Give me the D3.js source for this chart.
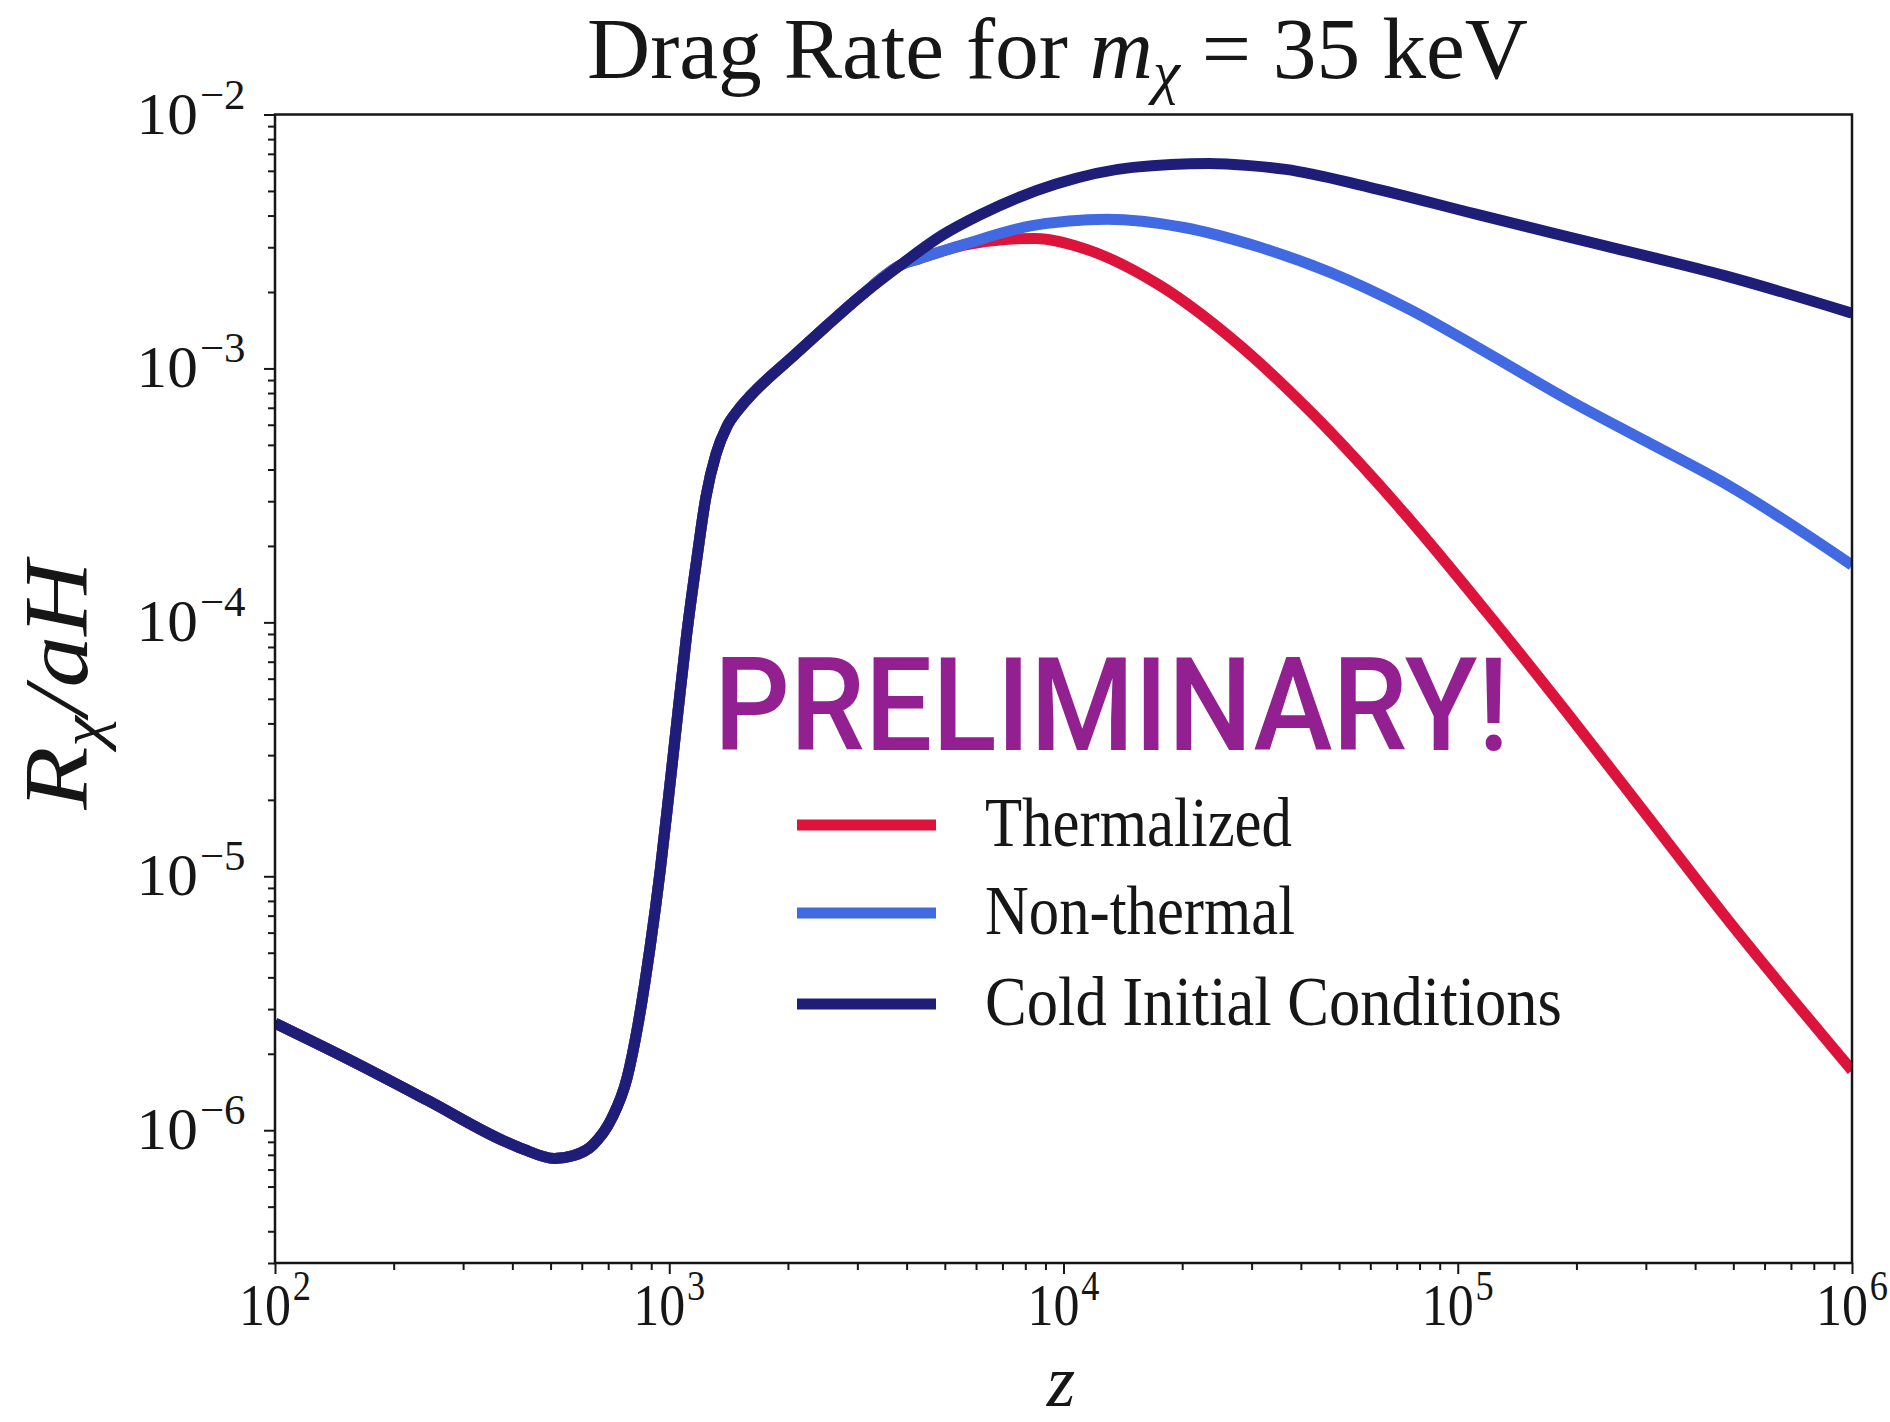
<!DOCTYPE html>
<html>
<head>
<meta charset="utf-8">
<script src="https://cdnjs.cloudflare.com/ajax/libs/d3/7.8.5/d3.min.js"></script>
<style>
  html, body { margin: 0; padding: 0; background: #fff; }
  svg { display: block; }
</style>
</head>
<body>
<svg id="chart" width="1890" height="1422"></svg>
<script>
// Drag rate R_chi / aH versus redshift z, m_chi = 35 keV.

// Low-z part, identical for all three treatments
const sharedZ = [100, 156, 244, 382, 428, 512, 572, 640, 714, 781, 833, 893, 949, 998, 1052, 1108, 1176, 1238, 1314, 1400, 1500, 1600, 2064, 2506, 3048];
const sharedR = [2.64e-6, 1.88e-6, 1.31e-6, 9.05e-7, 8.4e-7, 7.74e-7, 7.95e-7, 8.75e-7, 1.11e-6, 1.60e-6, 2.60e-6, 5.19e-6, 1.06e-5, 2.11e-5, 4.43e-5, 9.04e-5, 1.80e-4, 3.1e-4, 4.6e-4, 5.9e-4, 6.9e-4, 7.75e-4, 1.12e-3, 1.47e-3, 1.92e-3];

// High-z branches
const coldZ = [3918, 4900, 6128, 9570, 15000, 23400, 29700, 36600, 59400, 110000, 237700, 475000, 1e6];
const coldR = [2.6e-3, 3.33e-3, 4.02e-3, 5.32e-3, 6.19e-3, 6.41e-3, 6.29e-3, 6.08e-3, 5.18e-3, 4.07e-3, 3.03e-3, 2.32e-3, 1.65e-3];

const nonThermalZ = [3918, 4285, 5600, 8260, 12900, 20200, 31500, 47100, 74800, 118800, 188400, 299000, 486000, 1e6];
const nonThermalR = [2.58e-3, 2.7e-3, 3.08e-3, 3.64e-3, 3.87e-3, 3.59e-3, 3.0e-3, 2.40e-3, 1.72e-3, 1.15e-3, 7.6e-4, 5.18e-4, 3.46e-4, 1.68e-4];

const thermalZ = [3918, 4285, 5600, 7110, 8490, 11100, 17400, 27200, 42500, 72000, 118800, 188400, 299000, 475000, 1e6];
const thermalR = [2.58e-3, 2.7e-3, 3.06e-3, 3.22e-3, 3.25e-3, 2.99e-3, 2.14e-3, 1.28e-3, 6.71e-4, 2.77e-4, 1.09e-4, 4.45e-5, 1.77e-5, 7.0e-6, 1.72e-6];

const seriesNames = ["Thermalized", "Non-thermal", "Cold Initial Conditions"];
const seriesColors = ["#dc143c", "#4169e1", "#1e1e78"];

const xDomain = [1e2, 1e6];
const yDomain = [3e-7, 1e-2];

const serif = "'Liberation Serif', 'DejaVu Serif', serif";
const ink = "#161616";

const plot = { left: 275, top: 114.5, right: 1852, bottom: 1263 };

const svg = d3.select("#chart");
svg.append("rect").attr("width", 1890).attr("height", 1422).attr("fill", "#fff");

const x = d3.scaleLog().domain(xDomain).range([plot.left, plot.right]);
const y = d3.scaleLog().domain(yDomain).range([plot.bottom, plot.top]);

// scale a text horizontally so it spans a given width
function fitWidth(inner, textSel, target) {
  const w = textSel.node().getBBox().width;
  inner.attr("transform", `scale(${target / w},1)`);
}

function zip(zs, rs) { return zs.map((z, i) => ({ z, r: rs[i] })); }

const series = [
  zip(sharedZ, sharedR).concat(zip(thermalZ, thermalR)),
  zip(sharedZ, sharedR).concat(zip(nonThermalZ, nonThermalR)),
  zip(sharedZ, sharedR).concat(zip(coldZ, coldR))
];

// curves
svg.append("clipPath").attr("id", "plotClip")
  .append("rect")
  .attr("x", plot.left).attr("y", plot.top)
  .attr("width", plot.right - plot.left).attr("height", plot.bottom - plot.top);

const line = d3.line()
  .x(d => x(d.z))
  .y(d => y(d.r))
  .curve(d3.curveMonotoneX);

const curves = svg.append("g").attr("clip-path", "url(#plotClip)");
series.forEach((s, i) => {
  curves.append("path")
    .datum(s)
    .attr("d", line)
    .attr("fill", "none")
    .attr("stroke", seriesColors[i])
    .attr("stroke-width", 11)
    .attr("stroke-linejoin", "round");
});

// frame
svg.append("rect")
  .attr("x", plot.left).attr("y", plot.top)
  .attr("width", plot.right - plot.left).attr("height", plot.bottom - plot.top)
  .attr("fill", "none").attr("stroke", ink).attr("stroke-width", 2.5);

// ticks
const isMajor = v => Math.abs(Math.log10(v) - Math.round(Math.log10(v))) < 1e-9;
const xTicks = x.ticks();
const yTicks = y.ticks();
const xMajor = xTicks.filter(isMajor), xMinor = xTicks.filter(v => !isMajor(v));
const yMajor = yTicks.filter(isMajor), yMinor = yTicks.filter(v => !isMajor(v));

function styleAxis(g) {
  g.select(".domain").remove();
  g.selectAll(".tick line").attr("stroke", ink).attr("stroke-width", 2);
  g.selectAll(".tick text").remove();
}

svg.append("g").attr("transform", `translate(0,${plot.bottom})`)
  .call(d3.axisBottom(x).tickValues(xMinor).tickSize(7).tickFormat("")).call(styleAxis);
svg.append("g").attr("transform", `translate(0,${plot.bottom})`)
  .call(d3.axisBottom(x).tickValues(xMajor).tickSize(11).tickFormat("")).call(styleAxis);
svg.append("g").attr("transform", `translate(${plot.left},0)`)
  .call(d3.axisLeft(y).tickValues(yMinor).tickSize(7).tickFormat("")).call(styleAxis);
svg.append("g").attr("transform", `translate(${plot.left},0)`)
  .call(d3.axisLeft(y).tickValues(yMajor).tickSize(11).tickFormat("")).call(styleAxis);

// power-of-ten tick labels
function powerLabel(parent, tx, ty, anchor, exp, targetW) {
  const outer = parent.append("g").attr("transform", `translate(${tx},${ty})`);
  const inner = outer.append("g");
  const t = inner.append("text")
    .attr("text-anchor", anchor)
    .attr("font-family", serif)
    .attr("font-size", 60)
    .attr("fill", ink);
  t.append("tspan").text("10");
  t.append("tspan").attr("dy", -25).attr("dx", 2).attr("font-size", 42)
    .text(exp < 0 ? "\u2212" + (-exp) : String(exp));
  fitWidth(inner, t, targetW);
}

const xLab = svg.append("g");
xMajor.forEach(v => powerLabel(xLab, x(v), 1325, "middle", Math.round(Math.log10(v)), 72));
const yLab = svg.append("g");
yMajor.forEach(v => powerLabel(yLab, 245.5, y(v) + 19, "end", Math.round(Math.log10(v)), 109));

// title
{
  const outer = svg.append("g").attr("transform", "translate(587,78)");
  const inner = outer.append("g");
  const t = inner.append("text").attr("font-family", serif).attr("font-size", 86).attr("fill", ink);
  t.append("tspan").text("Drag Rate for ");
  t.append("tspan").attr("font-style", "italic").text("m");
  t.append("tspan").attr("font-style", "italic").attr("font-size", 60).attr("dy", 14).text("\u03c7");
  t.append("tspan").attr("dy", -14).text(" = 35 keV");
  fitWidth(inner, t, 941);
}

// y axis label
{
  const outer = svg.append("g").attr("transform", "translate(87,685.5) rotate(-90)");
  const inner = outer.append("g");
  const t = inner.append("text").attr("text-anchor", "middle")
    .attr("font-family", serif).attr("font-size", 92).attr("font-style", "italic").attr("fill", ink);
  t.append("tspan").text("R");
  t.append("tspan").attr("font-size", 62).attr("dy", 16).text("\u03c7");
  t.append("tspan").attr("dy", -16).text("/aH");
  fitWidth(inner, t, 255);
}

// x axis label
svg.append("text")
  .attr("x", 1061).attr("y", 1406)
  .attr("text-anchor", "middle")
  .attr("font-family", serif).attr("font-size", 73).attr("font-style", "italic")
  .attr("fill", ink)
  .text("z");

// watermark
{
  const outer = svg.append("g").attr("transform", "translate(714,750)");
  const inner = outer.append("g");
  const t = inner.append("text")
    .attr("font-family", "Roboto, 'Open Sans', sans-serif")
    .attr("font-weight", 500)
    .attr("font-size", 129)
    .attr("fill", "#922090")
    .text("PRELIMINARY!");
  fitWidth(inner, t, 795);
}

// legend
const legendRows = [825, 913, 1004];
const legendWidths = [307, 310, 577];
seriesNames.forEach((name, i) => {
  const ly = legendRows[i];
  svg.append("line")
    .attr("x1", 797).attr("x2", 936)
    .attr("y1", ly).attr("y2", ly)
    .attr("stroke", seriesColors[i]).attr("stroke-width", 11);
  const outer = svg.append("g").attr("transform", `translate(985,${ly + 21})`);
  const inner = outer.append("g");
  const t = inner.append("text")
    .attr("font-family", serif).attr("font-size", 70).attr("fill", ink)
    .text(name);
  fitWidth(inner, t, legendWidths[i]);
});
</script>
</body>
</html>
